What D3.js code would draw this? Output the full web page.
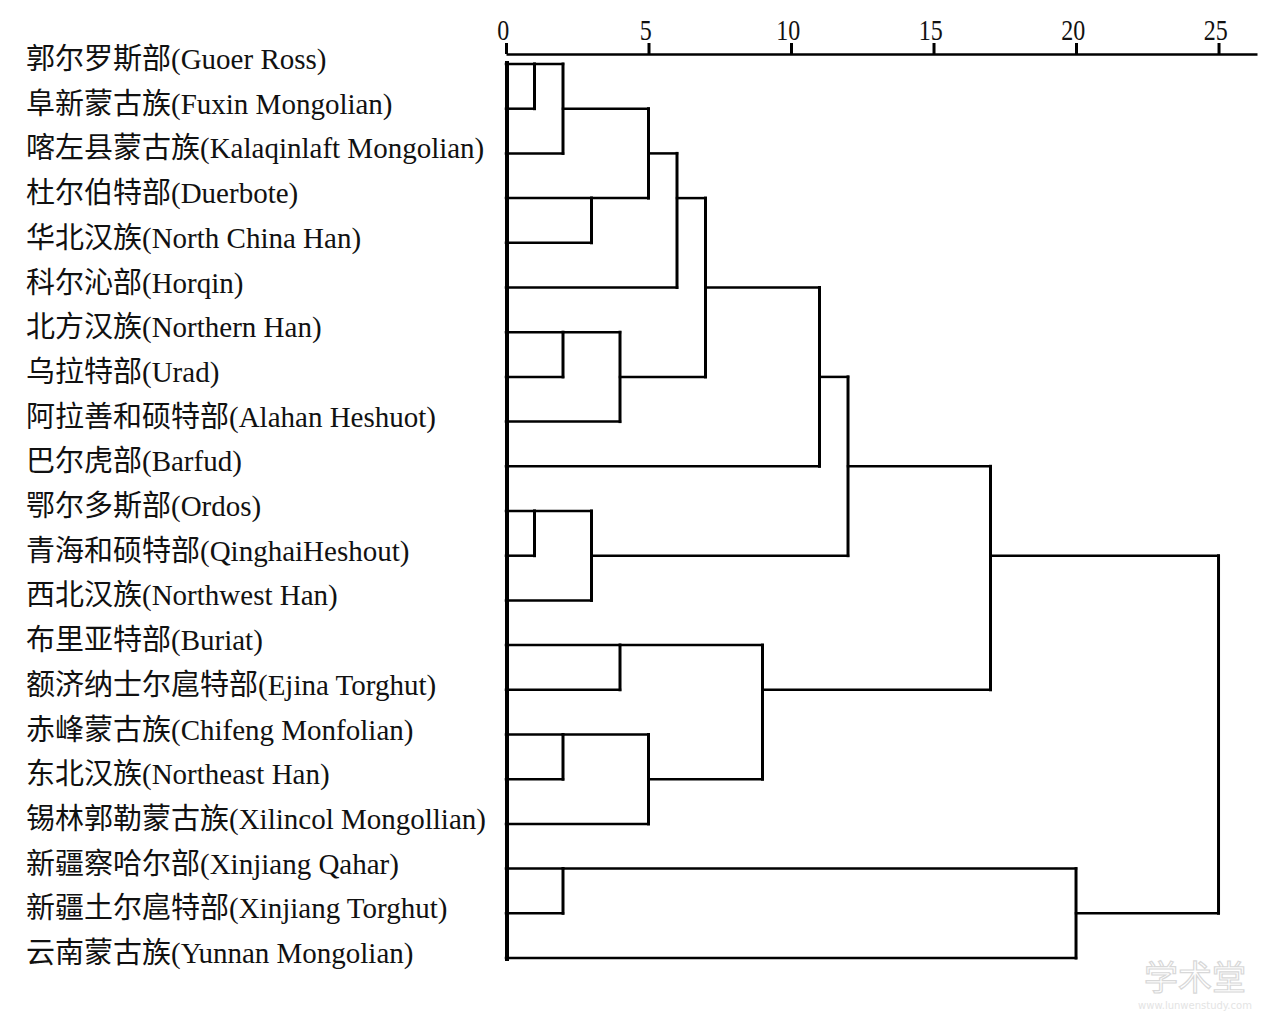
<!DOCTYPE html>
<html>
<head>
<meta charset="utf-8">
<script src="https://cdn.jsdelivr.net/npm/d3@7"></script>
<style>
  html, body { margin: 0; padding: 0; background: #fff; }
  svg { display: block; }
</style>
</head>
<body>
<svg id="chart" width="1276" height="1021"></svg>
<script>
// ---- data ----
const labels = [
  "郭尔罗斯部(Guoer Ross)",
  "阜新蒙古族(Fuxin Mongolian)",
  "喀左县蒙古族(Kalaqinlaft Mongolian)",
  "杜尔伯特部(Duerbote)",
  "华北汉族(North China Han)",
  "科尔沁部(Horqin)",
  "北方汉族(Northern Han)",
  "乌拉特部(Urad)",
  "阿拉善和硕特部(Alahan Heshuot)",
  "巴尔虎部(Barfud)",
  "鄂尔多斯部(Ordos)",
  "青海和硕特部(QinghaiHeshout)",
  "西北汉族(Northwest Han)",
  "布里亚特部(Buriat)",
  "额济纳士尔扈特部(Ejina Torghut)",
  "赤峰蒙古族(Chifeng Monfolian)",
  "东北汉族(Northeast Han)",
  "锡林郭勒蒙古族(Xilincol Mongollian)",
  "新疆察哈尔部(Xinjiang Qahar)",
  "新疆土尔扈特部(Xinjiang Torghut)",
  "云南蒙古族(Yunnan Mongolian)"
];
// merge steps: ids 0..20 are leaves, step k creates cluster id 21+k
const mergeA = [0, 10, 21, 6, 15, 18, 3, 22, 24, 13, 23, 25, 31, 33, 30, 34, 36, 37, 26, 38];
const mergeB = [1, 11, 2, 7, 16, 19, 4, 12, 8, 14, 27, 17, 5, 29, 32, 9, 28, 35, 20, 39];
const mergeDist = [1, 1, 2, 2, 2, 2, 3, 3, 4, 4, 5, 5, 6, 7, 9, 11, 12, 17, 20, 25];
const tickValues = [0, 5, 10, 15, 20, 25];
const axisExtent = 26.35;

// ---- layout ----
const svg = d3.select("#chart");
svg.append("rect").attr("width", 1276).attr("height", 1021).attr("fill", "#fff");

const x = d3.scaleLinear().domain([0, axisExtent]).range([506, 1257]);
const y = d3.scaleLinear().domain([0, labels.length - 1]).range([64, 958]);

const nLeaf = labels.length;
const nodeRow = labels.map((d, i) => i);
const nodeH = labels.map(() => 0);
mergeA.forEach((a, k) => {
  const b = mergeB[k];
  nodeRow.push(Math.floor((nodeRow[a] + nodeRow[b]) / 2));
  nodeH.push(mergeDist[k]);
});

const g = svg.append("g").attr("fill", "none").attr("stroke", "#000").attr("stroke-linecap", "square");

mergeA.forEach((a, k) => {
  const b = mergeB[k];
  const h = mergeDist[k];
  // vertical connector
  g.append("line")
    .attr("x1", x(h)).attr("x2", x(h))
    .attr("y1", y(nodeRow[a])).attr("y2", y(nodeRow[b]))
    .attr("stroke-width", 3);
  // horizontals from children
  [a, b].forEach(c => {
    g.append("line")
      .attr("x1", x(nodeH[c])).attr("x2", x(h))
      .attr("y1", y(nodeRow[c])).attr("y2", y(nodeRow[c]))
      .attr("stroke-width", 2.5);
  });
});

// left base line
g.append("line")
  .attr("x1", x(0) + 1).attr("x2", x(0) + 1)
  .attr("y1", y(0) - 1).attr("y2", y(nLeaf - 1) + 1)
  .attr("stroke-width", 4);

// labels
svg.append("g")
  .selectAll("text")
  .data(labels)
  .join("text")
  .attr("x", 26)
  .attr("y", (d, i) => y(i) + 5)
  .attr("font-family", "'Liberation Serif', 'Noto Sans CJK SC', serif")
  .attr("font-size", 29)
  .attr("fill", "#111")
  .text(d => d);

// top axis
const axis = d3.axisTop(x).tickValues(tickValues).tickSize(11).tickSizeOuter(0).tickPadding(3)
  .tickFormat(d3.format("d"));
const ag = svg.append("g").attr("transform", "translate(0,54)").call(axis);
ag.select(".domain").attr("stroke", "#000").attr("stroke-width", 2.5);
ag.selectAll(".tick line").attr("stroke", "#000").attr("stroke-width", 3);
ag.selectAll(".tick text")
  .attr("font-family", "'Liberation Serif', serif")
  .attr("font-size", 30)
  .attr("fill", "#111")
  .attr("transform", "scale(0.8,1)")
  .attr("x", -4);

// watermark
svg.append("text")
  .attr("x", 1195).attr("y", 990)
  .attr("text-anchor", "middle")
  .attr("font-family", "'Noto Sans CJK SC', sans-serif")
  .attr("font-size", 34)
  .attr("fill", "#fff")
  .attr("stroke", "#d8d8d8")
  .attr("stroke-width", 1.2)
  .text("学术堂");
svg.append("text")
  .attr("x", 1195).attr("y", 1009)
  .attr("text-anchor", "middle")
  .attr("font-family", "'DejaVu Sans', sans-serif")
  .attr("font-size", 10)
  .attr("fill", "#e4e4e4")
  .text("www.lunwenstudy.com");
</script>
</body>
</html>
